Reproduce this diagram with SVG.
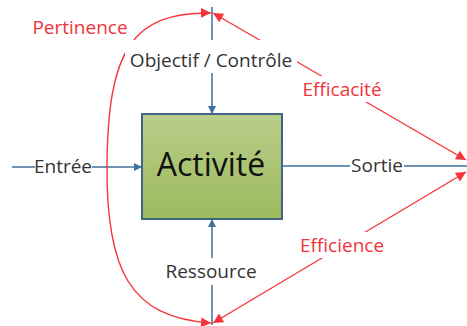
<svg xmlns="http://www.w3.org/2000/svg" width="467" height="326" viewBox="0 0 467 326">
<style>
.blue{stroke:#41709c;stroke-width:1.5;fill:none}
.red{stroke:#f8333b;stroke-width:1.4;fill:none}
.lbl{font-family:"Open Sans","Liberation Sans",sans-serif;font-size:19px;fill:#333333;text-anchor:middle}
.rlbl{font-family:"Open Sans","Liberation Sans",sans-serif;font-size:19px;fill:#f0333b;text-anchor:middle}
.bg{fill:#ffffff}
</style>
<defs>
<linearGradient id="g" x1="0" y1="0" x2="0" y2="1">
<stop offset="0" stop-color="#b8ce89"/>
<stop offset="1" stop-color="#9dba5e"/>
</linearGradient>
<marker id="ab" viewBox="0 0 10 10" refX="10" refY="5" markerWidth="8" markerHeight="8" markerUnits="userSpaceOnUse" orient="auto">
<path d="M0,0 L10,5 L0,10 Z" fill="#41709c"/>
</marker>
<marker id="ar" viewBox="0 0 10 10" refX="10" refY="5" markerWidth="12" markerHeight="10" markerUnits="userSpaceOnUse" orient="auto-start-reverse">
<path d="M0,0 L10,5 L0,10 Z" fill="#f8333b"/>
</marker>
</defs>
<g id="connectors">
<path class="blue" d="M12,167 L142,167" marker-end="url(#ab)"/>
<path class="blue" d="M282,166 L467,166"/>
<path class="blue" d="M212,7 L212,114" marker-end="url(#ab)"/>
<path class="blue" d="M212,325 L212,219" marker-end="url(#ab)"/>
<path class="red" d="M211,13 C132,12 108,50 107,165 C106,270 130,318 211,323" marker-start="url(#ar)" marker-end="url(#ar)"/>
<path class="red" d="M213,13 L466,160" marker-start="url(#ar)" marker-end="url(#ar)"/>
<path class="red" d="M213,323 L466,172" marker-start="url(#ar)" marker-end="url(#ar)"/>
</g>
<g id="activite">
<rect x="142" y="114" width="140" height="105" fill="url(#g)" stroke="#3f6485" stroke-width="2"/>
<text x="211" y="176" font-family="'Open Sans','Liberation Sans',sans-serif" font-size="32" fill="#111111" text-anchor="middle">Activité</text>
</g>
<g id="entree">
<rect class="bg" x="35" y="155" width="57" height="24"/>
<text class="lbl" x="63" y="173">Entrée</text>
</g>
<g id="sortie">
<rect class="bg" x="350" y="154" width="54" height="24"/>
<text class="lbl" x="377" y="172">Sortie</text>
</g>
<g id="objectif">
<rect class="bg" x="125" y="40" width="172" height="33"/>
<text class="lbl" x="211" y="67">Objectif / Contrôle</text>
</g>
<g id="ressource">
<rect class="bg" x="163" y="258" width="96" height="27"/>
<text class="lbl" x="211" y="278">Ressource</text>
</g>
<g id="pertinence">
<text class="rlbl" x="80" y="34">Pertinence</text>
</g>
<g id="efficacite">
<rect class="bg" x="300" y="76" width="86" height="26"/>
<text class="rlbl" x="342" y="96">Efficacité</text>
</g>
<g id="efficience">
<rect class="bg" x="298" y="232" width="90" height="26"/>
<text class="rlbl" x="342" y="252">Efficience</text>
</g>
</svg>
